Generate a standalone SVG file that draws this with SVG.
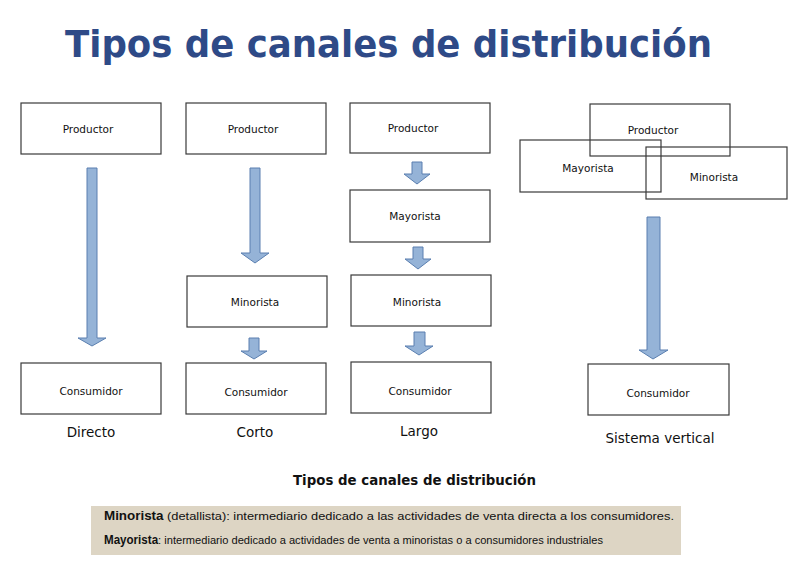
<svg xmlns="http://www.w3.org/2000/svg" width="800" height="565" viewBox="0 0 800 565">
<style>
.box{fill:#fff;stroke:#3a3a3a;stroke-width:1.2}
.obox{fill:none;stroke:#3a3a3a;stroke-width:1.2}
.lbl{font-family:"DejaVu Sans",Verdana,sans-serif;font-size:10.5px;fill:#111;text-anchor:middle}
.cap{font-family:"DejaVu Sans",Verdana,sans-serif;font-size:13.5px;fill:#111;text-anchor:middle}
.arr{fill:#95b3d7;stroke:#5a7fb0;stroke-width:1}
.leg{font-family:"Liberation Sans",Arial,sans-serif;font-size:11.5px;fill:#111}
</style>
<rect width="800" height="565" fill="#fff"/>
<text x="65" y="57" textLength="647" lengthAdjust="spacingAndGlyphs" style="font-family:'DejaVu Sans',Verdana,sans-serif;font-weight:bold;font-size:38px;fill:#2e4a87">Tipos de canales de distribución</text>

<g id="connectors">
<path class="arr" d="M87,168 H97 V338 H106 L92,346 L78,338 H87 Z"/>
<path class="arr" d="M250,168 H260 V253 H269 L255,263 L241,253 H250 Z"/>
<path class="arr" d="M249,338 H259 V351 H267 L254,359 L241,351 H249 Z"/>
<path class="arr" d="M412,162 H422 V174 H430 L417,184 L404,174 H412 Z"/>
<path class="arr" d="M413,247 H423 V259 H431 L418,269 L405,259 H413 Z"/>
<path class="arr" d="M414,332 H425 V346 H433 L419,355 L405,346 H414 Z"/>
<path class="arr" d="M647,217 H660 V350 H668 L653,359 L639,350 H647 Z"/>
</g>

<g id="directo-productor"><rect class="box" x="21" y="103" width="140" height="51"/><text class="lbl" x="88" y="133">Productor</text></g>
<g id="directo-consumidor"><rect class="box" x="21" y="363" width="140" height="51"/><text class="lbl" x="91" y="395">Consumidor</text></g>
<text class="cap" x="91" y="437">Directo</text>

<g id="corto-productor"><rect class="box" x="186" y="103" width="140" height="51"/><text class="lbl" x="253" y="133">Productor</text></g>
<g id="corto-minorista"><rect class="box" x="187" y="276" width="140" height="51"/><text class="lbl" x="255" y="306">Minorista</text></g>
<g id="corto-consumidor"><rect class="box" x="186" y="363" width="140" height="51"/><text class="lbl" x="256" y="396">Consumidor</text></g>
<text class="cap" x="255" y="437">Corto</text>

<g id="largo-productor"><rect class="box" x="350" y="103" width="140" height="50"/><text class="lbl" x="413" y="132">Productor</text></g>
<g id="largo-mayorista"><rect class="box" x="350" y="190" width="140" height="52"/><text class="lbl" x="415" y="220">Mayorista</text></g>
<g id="largo-minorista"><rect class="box" x="351" y="275" width="140" height="51"/><text class="lbl" x="417" y="306">Minorista</text></g>
<g id="largo-consumidor"><rect class="box" x="351" y="362" width="140" height="51"/><text class="lbl" x="420" y="395">Consumidor</text></g>
<text class="cap" x="419" y="436">Largo</text>

<g id="sv-productor"><rect class="obox" x="590" y="104" width="140" height="52"/><text class="lbl" x="653" y="134">Productor</text></g>
<g id="sv-mayorista"><rect class="obox" x="520" y="140" width="141" height="52"/><text class="lbl" x="588" y="172">Mayorista</text></g>
<g id="sv-minorista"><rect class="obox" x="646" y="147" width="141" height="52"/><text class="lbl" x="714" y="181">Minorista</text></g>
<g id="sv-consumidor"><rect class="box" x="588" y="364" width="141" height="51"/><text class="lbl" x="658" y="397">Consumidor</text></g>
<text class="cap" x="660" y="443">Sistema vertical</text>

<text x="293" y="485" textLength="243" lengthAdjust="spacingAndGlyphs" style="font-family:'DejaVu Sans',Verdana,sans-serif;font-weight:bold;font-size:13.5px;fill:#111">Tipos de canales de distribución</text>

<g id="legend">
<rect x="91" y="506" width="590" height="49" fill="#ddd5c4"/>
<text class="leg" x="104" y="520" textLength="570" lengthAdjust="spacingAndGlyphs"><tspan font-weight="bold" font-size="12px">Minorista</tspan> (detallista):  intermediario  dedicado  a  las  actividades  de  venta  directa  a  los  consumidores.</text>
<text class="leg" x="104" y="544" textLength="499" lengthAdjust="spacingAndGlyphs"><tspan font-weight="bold" font-size="12px">Mayorista</tspan>: intermediario dedicado a actividades de venta a minoristas o a consumidores industriales</text>
</g>
</svg>
